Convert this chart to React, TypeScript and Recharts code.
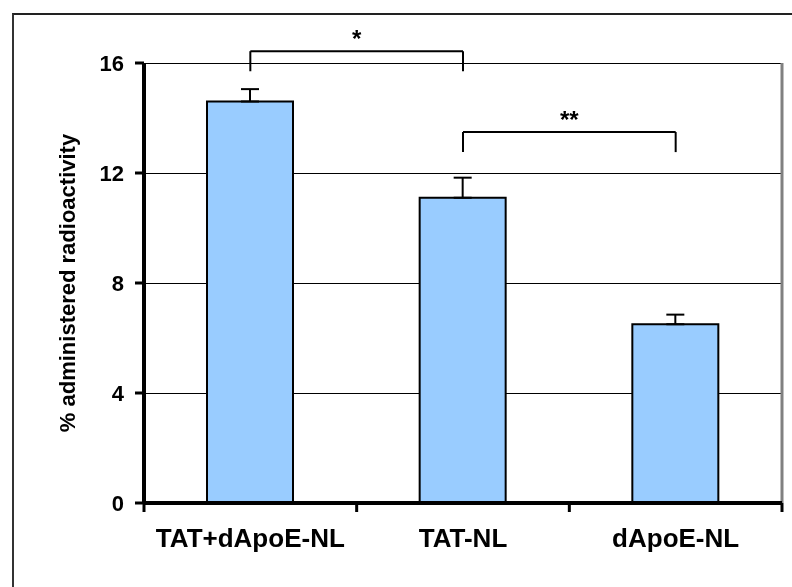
import React from "react";
import {
  BarChart,
  Bar,
  XAxis,
  YAxis,
  CartesianGrid,
  ErrorBar,
  ReferenceLine,
} from "recharts";

const categories = ["TAT+dApoE-NL", "TAT-NL", "dApoE-NL"];
const means = [14.6, 11.1, 6.5];
const sem = [0.45, 0.73, 0.35];
const yTicks = [0, 4, 8, 12, 16];

// significance brackets: [from, to, top, legBottom, stars]
const brackets: [string, string, number, number, string][] = [
  ["TAT+dApoE-NL", "TAT-NL", 16.43, 15.7, "*"],
  ["TAT-NL", "dApoE-NL", 13.49, 12.76, "**"],
];

const data = categories.map((name, i) => ({
  name,
  value: means[i],
  err: [0, sem[i]],
}));

const FONT = "'Liberation Sans', Arial, sans-serif";
const X_TICK_SIZE = 6;
const X_TICK_MARGIN = 20;

// category label plus Excel-style tick marks between the categories
function CategoryTick(props: any) {
  const { x, y, payload, index, visibleTicksCount } = props;
  const axisY = y - X_TICK_SIZE - X_TICK_MARGIN;
  const half = payload?.offset ?? 0;
  return (
    <g>
      {half > 0 && (
        <line x1={x - half} x2={x - half} y1={axisY} y2={axisY + 9} stroke="#000" strokeWidth={3} />
      )}
      {half > 0 && index === visibleTicksCount - 1 && (
        <line x1={x + half} x2={x + half} y1={axisY} y2={axisY + 9} stroke="#000" strokeWidth={3} />
      )}
      <text
        x={x}
        y={y}
        dy="0.71em"
        textAnchor="middle"
        fill="#000"
        fontSize={26}
        fontWeight={700}
        fontFamily={FONT}
      >
        {payload.value}
      </text>
    </g>
  );
}

export default function App() {
  return (
    <div style={{ position: "relative", width: 784, height: 579 }}>
      <div
        style={{
          position: "fixed",
          left: 12,
          top: 13,
          width: 800,
          height: 600,
          borderTop: "2px solid #222",
          borderLeft: "2px solid #333",
          pointerEvents: "none",
        }}
      />
      <BarChart
        width={784}
        height={579}
        data={data}
        margin={{ top: 55, right: 10, left: 0, bottom: 0 }}
        barSize={86}
      >
        <CartesianGrid
          vertical={false}
          stroke="#000"
          strokeWidth={1}
          shapeRendering="crispEdges"
        />
        <CartesianGrid
          horizontal={false}
          stroke="#808080"
          strokeWidth={3}
          verticalCoordinatesGenerator={({ offset }: any) => [offset.left + offset.width]}
        />
        <XAxis
          dataKey="name"
          tickLine={false}
          axisLine={{ stroke: "#000", strokeWidth: 4 }}
          tickSize={X_TICK_SIZE}
          tickMargin={X_TICK_MARGIN}
          height={84}
          interval={0}
          tick={<CategoryTick />}
        />
        <XAxis
          xAxisId="top"
          orientation="top"
          dataKey="name"
          tick={false}
          tickLine={false}
          axisLine={{ stroke: "#808080", strokeWidth: 2 }}
          height={0}
        />
        <YAxis
          domain={[0, 16]}
          ticks={yTicks}
          width={136}
          axisLine={{ stroke: "#000", strokeWidth: 4 }}
          tickLine={{ stroke: "#000", strokeWidth: 3 }}
          tickSize={9}
          tickMargin={11}
          tick={{ fill: "#000", fontSize: 22, fontWeight: 700, fontFamily: FONT }}
          label={{
            value: "% administered radioactivity",
            angle: -90,
            position: "center",
            dx: -9,
            style: { fill: "#000", fontSize: 22, fontWeight: 700, fontFamily: FONT },
          }}
        />
        <Bar
          dataKey="value"
          fill="#99CCFF"
          stroke="#000"
          strokeWidth={2}
          isAnimationActive={false}
        >
          <ErrorBar
            dataKey="err"
            width={9}
            stroke="#000"
            strokeWidth={2}
            isAnimationActive={false}
          />
        </Bar>
        {brackets.map(([a, b, top, bottom, stars]) => (
          <React.Fragment key={a + b}>
            <ReferenceLine
              segment={[
                { x: a, y: top },
                { x: b, y: top },
              ]}
              stroke="#000"
              strokeWidth={2}
              ifOverflow="visible"
              label={{
                value: stars,
                position: "top",
                offset: 4,
                style: { fill: "#000", fontSize: 24, fontWeight: 700, fontFamily: FONT },
              }}
            />
            <ReferenceLine
              segment={[
                { x: a, y: top },
                { x: a, y: bottom },
              ]}
              stroke="#000"
              strokeWidth={2}
              ifOverflow="visible"
            />
            <ReferenceLine
              segment={[
                { x: b, y: top },
                { x: b, y: bottom },
              ]}
              stroke="#000"
              strokeWidth={2}
              ifOverflow="visible"
            />
          </React.Fragment>
        ))}
      </BarChart>
    </div>
  );
}
